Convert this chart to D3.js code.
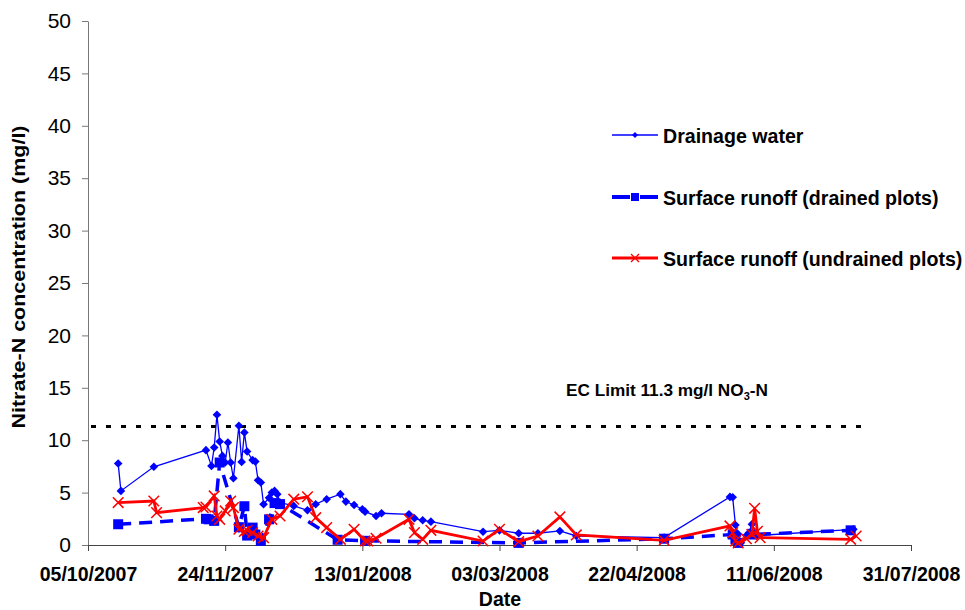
<!DOCTYPE html>
<html lang="en">
<head>
  <meta charset="UTF-8">
  <title>Nitrate-N concentration</title>
  <style>
    body {
      margin: 0;
      background: #fff;
      font-family: "Liberation Sans", Arial, sans-serif;
    }
    .tick text { fill: #000; }
  </style>
</head>
<body>
  <svg id="chart" width="965" height="610"></svg>

  <script src="https://d3js.org/d3.v7.min.js"></script>
  <script>
    // date, nitrate-N (mg/l)
    const drainageWater = [
      ["2007-10-16", 7.77], ["2007-10-17", 5.16], ["2007-10-29", 7.46],
      ["2007-11-17", 9.05], ["2007-11-19", 7.55], ["2007-11-20", 9.3],
      ["2007-11-21", 12.43], ["2007-11-22", 9.88], ["2007-11-23", 8.5],
      ["2007-11-24", 7.87], ["2007-11-25", 9.78], ["2007-11-26", 7.87],
      ["2007-11-27", 6.37], ["2007-11-29", 11.38], ["2007-11-30", 7.93],
      ["2007-12-01", 10.74], ["2007-12-02", 8.92], ["2007-12-04", 8.1],
      ["2007-12-05", 7.96], ["2007-12-06", 6.18], ["2007-12-07", 5.96],
      ["2007-12-08", 3.89], ["2007-12-10", 4.5], ["2007-12-11", 5.0],
      ["2007-12-12", 5.16], ["2007-12-13", 4.85], ["2007-12-14", 4.05],
      ["2007-12-19", 3.73], ["2007-12-24", 3.31], ["2007-12-27", 3.89],
      ["2007-12-31", 4.37], ["2008-01-05", 4.85], ["2008-01-07", 4.14],
      ["2008-01-10", 3.82], ["2008-01-13", 3.41], ["2008-01-14", 3.18],
      ["2008-01-18", 2.77], ["2008-01-20", 3.03], ["2008-01-30", 2.93],
      ["2008-02-01", 2.55], ["2008-02-04", 2.36], ["2008-02-07", 2.23],
      ["2008-02-26", 1.27], ["2008-03-03", 1.4], ["2008-03-10", 1.12],
      ["2008-03-17", 1.12], ["2008-03-25", 1.34], ["2008-03-31", 0.86],
      ["2008-05-02", 0.7], ["2008-05-26", 4.59], ["2008-05-27", 4.55],
      ["2008-05-28", 1.91], ["2008-05-29", 1.02], ["2008-05-30", 0.22],
      ["2008-06-01", 0.9], ["2008-06-02", 1.18], ["2008-06-03", 1.98],
      ["2008-06-05", 0.9], ["2008-07-10", 1.5]
    ];

    const runoffDrained = [
      ["2007-10-16", 1.98], ["2007-11-17", 2.5], ["2007-11-18", 2.45],
      ["2007-11-20", 2.3], ["2007-11-22", 7.87], ["2007-11-29", 1.7],
      ["2007-12-01", 3.7], ["2007-12-02", 0.9], ["2007-12-04", 1.66],
      ["2007-12-05", 1.0], ["2007-12-07", 0.4], ["2007-12-10", 2.45],
      ["2007-12-12", 4.0], ["2007-12-14", 3.9], ["2008-01-04", 0.5],
      ["2008-01-14", 0.4], ["2008-03-10", 0.2], ["2008-05-02", 0.6],
      ["2008-05-27", 1.0], ["2008-05-28", 0.55], ["2008-05-29", 0.2],
      ["2008-06-03", 1.0], ["2008-07-09", 1.4]
    ];

    const runoffUndrained = [
      ["2007-10-16", 4.05], ["2007-10-29", 4.2], ["2007-10-30", 3.09],
      ["2007-11-16", 3.57], ["2007-11-17", 3.63], ["2007-11-20", 4.68],
      ["2007-11-21", 2.77], ["2007-11-22", 2.45], ["2007-11-24", 3.25],
      ["2007-11-26", 4.2], ["2007-11-27", 3.57], ["2007-11-29", 1.5],
      ["2007-12-01", 1.3], ["2007-12-02", 1.4], ["2007-12-04", 1.18],
      ["2007-12-06", 0.86], ["2007-12-08", 0.7], ["2007-12-11", 2.45],
      ["2007-12-14", 2.77], ["2007-12-19", 4.37], ["2007-12-24", 4.6],
      ["2007-12-27", 2.61], ["2007-12-31", 1.66], ["2008-01-05", 0.54],
      ["2008-01-10", 1.5], ["2008-01-14", 0.38], ["2008-01-15", 0.38],
      ["2008-01-18", 0.64], ["2008-01-30", 2.45], ["2008-02-01", 1.18],
      ["2008-02-04", 0.54], ["2008-02-07", 1.4], ["2008-02-26", 0.38],
      ["2008-03-03", 1.5], ["2008-03-10", 0.32], ["2008-03-17", 0.86],
      ["2008-03-25", 2.68], ["2008-03-31", 0.96], ["2008-05-02", 0.45],
      ["2008-05-26", 1.82], ["2008-05-27", 1.18], ["2008-05-28", 0.38],
      ["2008-05-29", 0.2], ["2008-06-01", 0.6], ["2008-06-03", 1.02],
      ["2008-06-04", 3.5], ["2008-06-05", 1.3], ["2008-06-06", 0.7],
      ["2008-07-09", 0.54], ["2008-07-11", 0.86]
    ];

    const xTickLabels = ["05/10/2007", "24/11/2007", "13/01/2008", "03/03/2008",
                         "22/04/2008", "11/06/2008", "31/07/2008"];
    const yTicks = [0, 5, 10, 15, 20, 25, 30, 35, 40, 45, 50];
    const ecLimit = 11.3;

    const parseDate = d3.timeParse("%Y-%m-%d");
    const parseLabel = d3.timeParse("%d/%m/%Y");
    const fmtLabel = d3.timeFormat("%d/%m/%Y");

    const svg = d3.select("#chart");

    const x = d3.scaleTime()
      .domain([parseLabel(xTickLabels[0]), parseLabel(xTickLabels[xTickLabels.length - 1])])
      .range([88, 911]);

    const y = d3.scaleLinear()
      .domain([0, 50])
      .range([545, 21]);

    // axes
    const yAxis = svg.append("g")
      .attr("transform", "translate(88,0)")
      .call(d3.axisLeft(y).tickValues(yTicks).tickSize(6).tickSizeOuter(0));
    yAxis.select(".domain").attr("stroke", "#777");
    yAxis.selectAll(".tick line").attr("stroke", "#777");
    yAxis.selectAll(".tick text")
      .attr("x", -17)
      .attr("font-size", 21)
      .attr("font-family", "Liberation Sans, Arial, sans-serif");

    const xAxis = svg.append("g")
      .attr("transform", "translate(0,545)")
      .call(d3.axisBottom(x)
        .tickValues(xTickLabels.map(parseLabel))
        .tickFormat(fmtLabel)
        .tickSize(6)
        .tickSizeOuter(0));
    xAxis.select(".domain").attr("stroke", "#444");
    xAxis.selectAll(".tick line").attr("stroke", "#444");
    xAxis.selectAll(".tick text")
      .attr("y", 36)
      .attr("dy", 0)
      .attr("font-size", 19.5)
      .attr("font-weight", "bold")
      .attr("font-family", "Liberation Sans, Arial, sans-serif");

    // axis titles
    svg.append("text")
      .attr("transform", "translate(25,277) rotate(-90)")
      .attr("text-anchor", "middle")
      .attr("font-size", 19)
      .attr("font-weight", "bold")
      .attr("textLength", 303)
      .attr("lengthAdjust", "spacingAndGlyphs")
      .text("Nitrate-N concentration (mg/l)");

    svg.append("text")
      .attr("x", 500)
      .attr("y", 606)
      .attr("text-anchor", "middle")
      .attr("font-size", 19.5)
      .attr("font-weight", "bold")
      .text("Date");

    // EC limit
    svg.append("line")
      .attr("x1", 91).attr("x2", 861)
      .attr("y1", y(ecLimit)).attr("y2", y(ecLimit))
      .attr("stroke", "#000")
      .attr("stroke-width", 3)
      .attr("stroke-dasharray", "5,10");

    const ec = svg.append("text")
      .attr("x", 566)
      .attr("y", 396)
      .attr("font-size", 17.2)
      .attr("font-weight", "bold");
    ec.append("tspan").text("EC Limit 11.3 mg/l NO");
    ec.append("tspan").attr("font-size", 11).attr("dy", 4).text("3");
    ec.append("tspan").attr("dy", -4).text("-N");

    // series
    const prep = arr => arr.map(([d, v]) => ({ date: parseDate(d), value: v }));
    const line = d3.line().x(d => x(d.date)).y(d => y(d.value));

    const diamond = r => `M0,${-r}L${r},0L0,${r}L${-r},0Z`;
    const cross = r => `M${-r},${-r}L${r},${r}M${-r},${r}L${r},${-r}`;

    // drainage water
    const dw = prep(drainageWater);
    svg.append("path")
      .datum(dw)
      .attr("fill", "none")
      .attr("stroke", "#0000ff")
      .attr("stroke-width", 1.3)
      .attr("d", line);
    svg.append("g").selectAll("path")
      .data(dw)
      .join("path")
      .attr("transform", d => `translate(${x(d.date)},${y(d.value)})`)
      .attr("d", diamond(4.3))
      .attr("fill", "#0000ff");

    // surface runoff drained
    const rd = prep(runoffDrained);
    svg.append("path")
      .datum(rd)
      .attr("fill", "none")
      .attr("stroke", "#0000ff")
      .attr("stroke-width", 3.5)
      .attr("stroke-dasharray", "13,8")
      .attr("d", line);
    svg.append("g").selectAll("rect")
      .data(rd)
      .join("rect")
      .attr("x", d => x(d.date) - 5)
      .attr("y", d => y(d.value) - 5)
      .attr("width", 10)
      .attr("height", 10)
      .attr("fill", "#0000ff");

    // surface runoff undrained
    const ru = prep(runoffUndrained);
    svg.append("path")
      .datum(ru)
      .attr("fill", "none")
      .attr("stroke", "#ff0000")
      .attr("stroke-width", 2.8)
      .attr("d", line);
    svg.append("g").selectAll("path")
      .data(ru)
      .join("path")
      .attr("transform", d => `translate(${x(d.date)},${y(d.value)})`)
      .attr("d", cross(5.3))
      .attr("stroke", "#ff0000")
      .attr("stroke-width", 1.5)
      .attr("fill", "none");

    // legend
    const legend = svg.append("g").attr("transform", "translate(612,0)");
    const ly = [135, 197, 258];

    legend.append("line")
      .attr("x1", 0).attr("x2", 46).attr("y1", ly[0]).attr("y2", ly[0])
      .attr("stroke", "#0000ff").attr("stroke-width", 1.3);
    legend.append("path")
      .attr("transform", `translate(23,${ly[0]})`)
      .attr("d", diamond(3)).attr("fill", "#0000ff");

    legend.append("line")
      .attr("x1", 0).attr("x2", 46).attr("y1", ly[1]).attr("y2", ly[1])
      .attr("stroke", "#0000ff").attr("stroke-width", 4)
      .attr("stroke-dasharray", "18,10");
    legend.append("rect")
      .attr("x", 19).attr("y", ly[1] - 4).attr("width", 8).attr("height", 8)
      .attr("fill", "#0000ff");

    legend.append("line")
      .attr("x1", 0).attr("x2", 46).attr("y1", ly[2]).attr("y2", ly[2])
      .attr("stroke", "#ff0000").attr("stroke-width", 2.8);
    legend.append("path")
      .attr("transform", `translate(23,${ly[2]})`)
      .attr("d", cross(4)).attr("stroke", "#ff0000").attr("stroke-width", 1.3);

    const names = ["Drainage water", "Surface runoff (drained plots)", "Surface runoff (undrained plots)"];
    legend.selectAll("text.lab")
      .data(names)
      .join("text")
      .attr("class", "lab")
      .attr("x", 51)
      .attr("y", (d, i) => ly[i] + 7.5)
      .attr("font-size", 19.6)
      .attr("font-weight", "bold")
      .text(d => d);
  </script>
</body>
</html>
